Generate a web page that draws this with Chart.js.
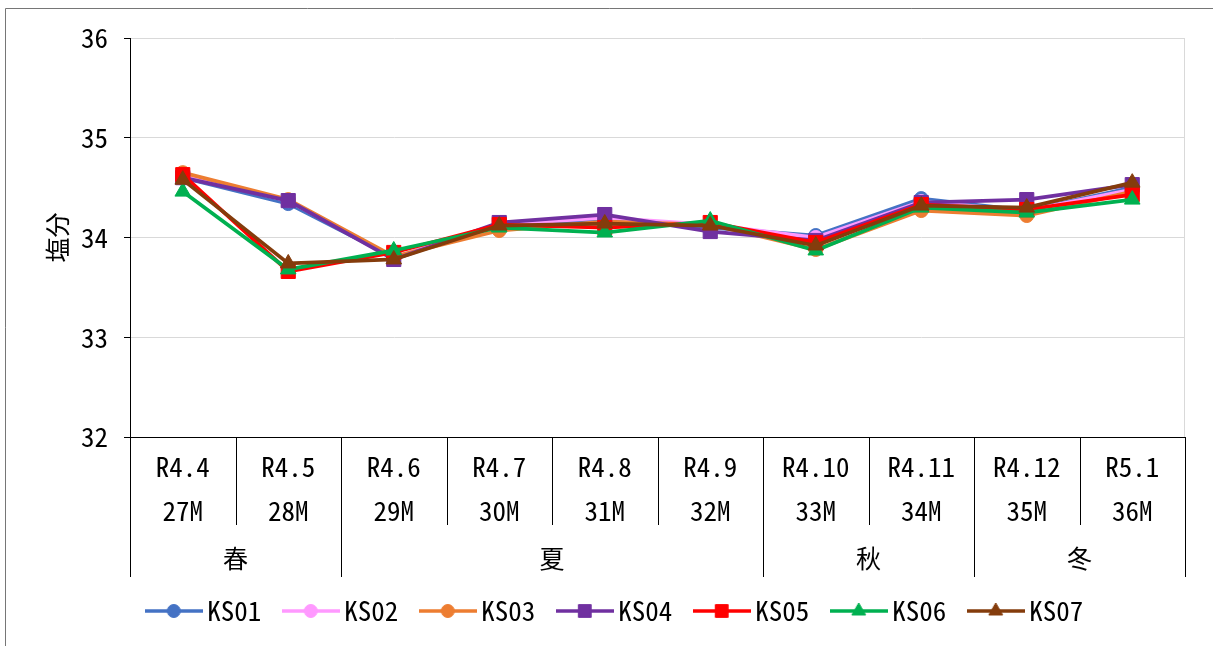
<!DOCTYPE html>
<html>
<head>
<meta charset="utf-8">
<script src="https://cdn.jsdelivr.net/npm/chart.js@4"></script>
<style>
  body { margin: 0; background: #fff; }
  #wrap { width: 1213px; height: 646px; position: relative; }
</style>
</head>
<body>
<div id="wrap"><canvas id="saltChart"></canvas></div>
<script>
// --- DATA ---
const months = ['R4.4', 'R4.5', 'R4.6', 'R4.7', 'R4.8', 'R4.9', 'R4.10', 'R4.11', 'R4.12', 'R5.1'];
const ages = ['27M', '28M', '29M', '30M', '31M', '32M', '33M', '34M', '35M', '36M'];
const seasonNames = ['春', '夏', '秋', '冬'];
const seasonSpans = [2, 4, 2, 2];
const yTicks = [32, 33, 34, 35, 36];

const ks01 = [34.60, 34.34, 33.80, 34.12, 34.18, 34.10, 34.02, 34.39, 34.27, 34.50];
const ks02 = [34.62, 34.37, 33.80, 34.13, 34.20, 34.13, 34.00, 34.36, 34.27, 34.48];
const ks03 = [34.65, 34.38, 33.81, 34.07, 34.16, 34.13, 33.88, 34.27, 34.22, 34.46];
const ks04 = [34.60, 34.37, 33.78, 34.15, 34.23, 34.06, 33.97, 34.35, 34.38, 34.53];
const ks05 = [34.63, 33.66, 33.85, 34.13, 34.10, 34.15, 33.95, 34.33, 34.28, 34.43];
const ks06 = [34.46, 33.68, 33.87, 34.10, 34.05, 34.17, 33.87, 34.30, 34.25, 34.38];
const ks07 = [34.58, 33.74, 33.78, 34.12, 34.14, 34.12, 33.92, 34.32, 34.30, 34.55];

const FONT = "'Noto Sans Mono CJK JP', 'Noto Sans CJK JP', monospace";

Chart.defaults.font.family = FONT;
Chart.defaults.color = '#000';

// legend swatch: a short line with the marker on it
function legendSwatch(color, style, radius) {
    const c = document.createElement('canvas');
    c.width = 58;
    c.height = 22;
    const g = c.getContext('2d');
    g.strokeStyle = color;
    g.lineWidth = 3.5;
    g.beginPath();
    g.moveTo(0, 11);
    g.lineTo(58, 11);
    g.stroke();
    g.fillStyle = color;
    g.lineWidth = 1;
    Chart.helpers.drawPoint(g, { pointStyle: style, radius: radius, rotation: 0, borderWidth: 1 }, 29, 11);
    return c;
}

function series(label, values, color, style, radius, order) {
    return {
        label: label,
        data: values,
        borderColor: color,
        backgroundColor: color,
        borderWidth: 3.75,
        pointStyle: style,
        pointRadius: radius,
        pointBorderWidth: 1,
        pointBackgroundColor: color,
        pointBorderColor: color,
        tension: 0,
        order: order,
        legendIcon: legendSwatch(color, style, style === 'rect' ? 9 : (style === 'triangle' ? 8 : 6.5))
    };
}

// category separators, season row, frame
const groupAxisPlugin = {
    id: 'groupAxis',
    afterDraw(chart) {
        const ctx = chart.ctx;
        const area = chart.chartArea;
        const x = chart.scales.x;
        const n = months.length;

        const bounds = [];
        for (let i = 0; i <= n; i++) {
            if (i === 0) bounds.push(area.left);
            else if (i === n) bounds.push(area.right);
            else bounds.push((x.getPixelForValue(i - 1) + x.getPixelForValue(i)) / 2);
        }

        ctx.save();
        // plot right edge
        ctx.strokeStyle = '#d9d9d9';
        ctx.lineWidth = 1;
        ctx.beginPath();
        ctx.moveTo(Math.round(area.right) - 0.5, area.top);
        ctx.lineTo(Math.round(area.right) - 0.5, area.bottom);
        ctx.stroke();

        // season boundaries
        const seasonEdges = [0];
        seasonSpans.forEach(s => seasonEdges.push(seasonEdges[seasonEdges.length - 1] + s));

        ctx.strokeStyle = '#000';
        for (let i = 0; i <= n; i++) {
            const bx = Math.round(bounds[i]) + 0.5;
            const long = seasonEdges.includes(i);
            ctx.beginPath();
            ctx.moveTo(bx, area.bottom);
            ctx.lineTo(bx, area.bottom + (long ? 140 : 88));
            ctx.stroke();
        }

        ctx.fillStyle = '#000';
        ctx.font = '25px ' + FONT;
        ctx.textAlign = 'center';
        ctx.textBaseline = 'middle';
        for (let s = 0; s < seasonNames.length; s++) {
            const cx = (bounds[seasonEdges[s]] + bounds[seasonEdges[s + 1]]) / 2;
            ctx.fillText(seasonNames[s], cx, area.bottom + 121);
        }

        // outer frame
        ctx.strokeStyle = '#767676';
        ctx.beginPath();
        ctx.moveTo(5.5, chart.height);
        ctx.lineTo(5.5, 8.5);
        ctx.lineTo(chart.width, 8.5);
        ctx.stroke();
        ctx.restore();
    }
};

const ctx = document.getElementById('saltChart').getContext('2d');

new Chart(ctx, {
    type: 'line',
    data: {
        labels: months.map((m, i) => [m, ages[i]]),
        datasets: [
            series('KS01', ks01, '#4472C4', 'circle', 7, 6),
            series('KS02', ks02, '#FF99FF', 'circle', 7, 5),
            series('KS03', ks03, '#ED7D31', 'circle', 7, 4),
            series('KS04', ks04, '#7030A0', 'rect', 10, 3),
            series('KS05', ks05, '#FF0000', 'rect', 10, 2),
            series('KS06', ks06, '#00B050', 'triangle', 9, 1),
            series('KS07', ks07, '#843C0C', 'triangle', 9, 0)
        ]
    },
    options: {
        responsive: true,
        maintainAspectRatio: false,
        animation: false,
        layout: {
            // left padding nudges the centred legend to the right
            padding: { top: 38, right: 28, left: 52, bottom: 11.5 }
        },
        plugins: {
            legend: {
                display: true,
                position: 'bottom',
                labels: {
                    usePointStyle: true,
                    pointStyleWidth: 40,
                    padding: 29.5,
                    color: '#000',
                    font: { size: 27 },
                    sort: (a, b) => a.datasetIndex - b.datasetIndex,
                    generateLabels: function (chart) {
                        return chart.data.datasets.map((ds, i) => ({
                            text: ds.label,
                            datasetIndex: i,
                            pointStyle: ds.legendIcon,
                            fillStyle: ds.borderColor,
                            strokeStyle: ds.borderColor,
                            lineWidth: 0,
                            hidden: false
                        }));
                    }
                }
            },
            tooltip: { enabled: false }
        },
        scales: {
            x: {
                offset: true,
                grid: { display: true, drawOnChartArea: false, drawTicks: false, color: 'rgba(0,0,0,0)' },
                border: { display: true, color: '#000', width: 1 },
                ticks: {
                    color: '#000',
                    font: { size: 27, lineHeight: 44 / 27 },
                    padding: 8,
                    maxRotation: 0,
                    autoSkip: false
                },
                afterFit: function (scale) { scale.height = 131; }
            },
            y: {
                min: 32,
                max: 36,
                afterBuildTicks: function (scale) {
                    scale.ticks = yTicks.map(v => ({ value: v }));
                },
                grid: { color: '#d9d9d9', tickColor: '#000', tickLength: 6, lineWidth: 1 },
                border: { display: true, color: '#000', width: 1 },
                ticks: { color: '#000', font: { size: 27 }, padding: 16 },
                title: {
                    display: true,
                    text: '塩分',
                    color: '#000',
                    font: { size: 25 },
                    padding: { top: -10, bottom: 0 }
                },
                afterFit: function (scale) { scale.width = 78; }
            }
        }
    },
    plugins: [groupAxisPlugin]
});
</script>
</body>
</html>
